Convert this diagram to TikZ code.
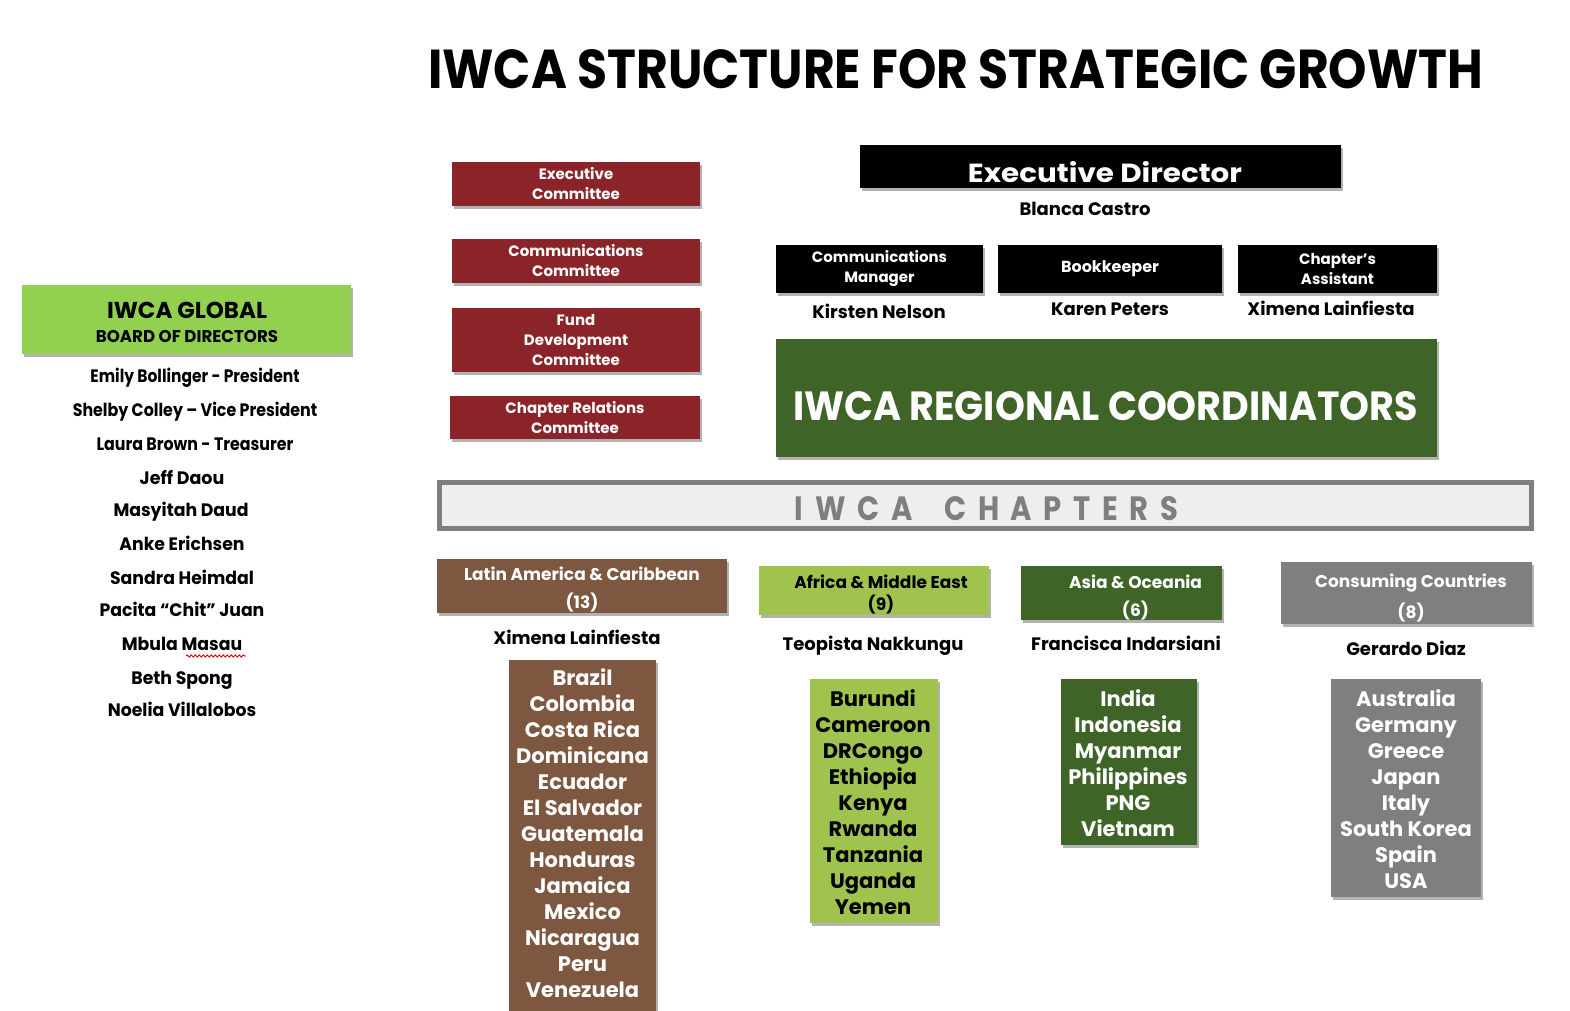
\documentclass[tikz,border=0pt]{standalone}
\usepackage{graphicx}
\usepackage{fontspec}
\setmainfont{Poppins}
\usetikzlibrary{shadows,decorations.pathmorphing}
\definecolor{cred}{HTML}{8B2428}
\definecolor{dgreen}{HTML}{3E6428}
\definecolor{lgreen}{HTML}{92D050}
\definecolor{agreen}{HTML}{A0C34E}
\definecolor{cbrown}{HTML}{7D573F}
\definecolor{cgray}{HTML}{7F7F82}
\definecolor{barfill}{HTML}{EEEEEE}
\definecolor{barline}{HTML}{7F7F7F}
\newcommand{\cnd}[2]{\scalebox{#1}[1]{#2}}
\tikzset{
  shbox/.style={anchor=north west, inner sep=0pt, outer sep=0pt,
    drop shadow={shadow xshift=2pt, shadow yshift=-2.5pt, opacity=0.3, fill=black}},
  lbl/.style={inner sep=0pt, anchor=base, font=\bfseries\fontsize{18}{22}\selectfont},
  wlbl/.style={inner sep=0pt, align=center, text=white, font=\bfseries\fontsize{15}{20}\selectfont},
  hdr/.style={inner sep=0pt, align=center, font=\bfseries\fontsize{17}{28}\selectfont},
  clist/.style={inner sep=0pt, align=center, font=\bfseries\fontsize{21}{26}\selectfont},
}
\begin{document}
\begin{tikzpicture}[x=1pt,y=-1pt]
\useasboundingbox (0,0) rectangle (1570,1010);
\fill[white] (0,0) rectangle (1570,1010);

% title
\node[inner sep=0pt, anchor=south west] (title) at (428,89)
  {\resizebox{1055pt}{39pt}{\bfseries IWCA STRUCTURE FOR STRATEGIC GROWTH}};

% committees
\node[shbox, fill=cred, minimum width=248pt, minimum height=44pt, wlbl] (execc) at (452,162) {Executive\\Committee};
\node[shbox, fill=cred, minimum width=248pt, minimum height=44pt, wlbl] (commc) at (452,239) {Communications\\Committee};
\node[shbox, fill=cred, minimum width=248pt, minimum height=64pt, wlbl] (fundc) at (452,308) {Fund\\Development\\Committee};
\node[shbox, fill=cred, minimum width=250pt, minimum height=43pt, wlbl] (chapc) at (450,396) {Chapter Relations\\Committee};

% executive director
\node[shbox, fill=black, minimum width=481pt, minimum height=43pt] (ed) at (860,145) {};
\node[inner sep=0pt, anchor=south, text=white] (edt) at (1105,183)
  {\resizebox{274pt}{21pt}{\bfseries Executive Director}};
\node[lbl] (blanca) at (1085,215) {Blanca Castro};

% staff
\node[shbox, fill=black, minimum width=207pt, minimum height=48pt, wlbl] (cm) at (776,245) {Communications\\Manager};
\node[shbox, fill=black, minimum width=224pt, minimum height=48pt, wlbl, font=\bfseries\fontsize{16}{20}\selectfont] (bk) at (998,245) {Bookkeeper};
\node[shbox, fill=black, minimum width=199pt, minimum height=48pt, wlbl] (ca) at (1238,245) {Chapter’s\\Assistant};
\node[lbl] (kirsten) at (879,318) {Kirsten Nelson};
\node[lbl] (karen) at (1110,315) {Karen Peters};
\node[lbl] (ximena1) at (1331,315) {Ximena Lainfiesta};

% regional coordinators
\node[shbox, fill=dgreen, minimum width=661pt, minimum height=118pt] (rc) at (776,339) {};
\node[inner sep=0pt, anchor=south, text=white] (rct) at (1105.5,421)
  {\resizebox{625pt}{29pt}{\bfseries IWCA REGIONAL COORDINATORS}};

% board
\node[shbox, fill=lgreen, minimum width=329pt, minimum height=69pt] (board) at (22,285) {};
\node[inner sep=0pt, anchor=base, font=\bfseries\fontsize{23}{26}\selectfont] (bt1) at (187,318) {IWCA GLOBAL};
\node[inner sep=0pt, anchor=base, font=\bfseries\fontsize{17}{20}\selectfont] (bt2) at (187,342) {\cnd{0.98}{BOARD OF DIRECTORS}};

\node[lbl] (n1) at (195,382) {\cnd{0.86}{Emily Bollinger - President}};
\node[lbl] (n2) at (195,416) {\cnd{0.88}{Shelby Colley – Vice President}};
\node[lbl] (n3) at (195,450) {\cnd{0.88}{Laura Brown - Treasurer}};
\node[lbl] (n4) at (182,484) {\cnd{0.97}{Jeff Daou}};
\node[lbl] (n5) at (181,516) {\cnd{0.96}{Masyitah Daud}};
\node[lbl] (n6) at (182,550) {\cnd{0.96}{Anke Erichsen}};
\node[lbl] (n7) at (182,584) {\cnd{0.96}{Sandra Heimdal}};
\node[lbl] (n8) at (182,616) {\cnd{0.96}{Pacita “Chit” Juan}};
\node[lbl] (n9) at (182,650) {\cnd{0.96}{Mbula Masau}};
\node[lbl] (n10) at (182,684) {\cnd{0.96}{Beth Spong}};
\node[lbl] (n11) at (182,716) {\cnd{0.96}{Noelia Villalobos}};
\draw[red!85!black, line width=0.9pt, decorate, decoration={snake, amplitude=1.1pt, segment length=4pt}] (186,656) -- (246,656);

% chapters bar
\node[fill=barfill, draw=barline, line width=5pt, minimum width=1092pt, minimum height=46pt, inner sep=0pt,
  drop shadow={shadow xshift=2pt, shadow yshift=-2.5pt, opacity=0.3, fill=black}] (bar) at (985.5,505.5) {};
\node[inner sep=0pt, anchor=south, text=barline] (bart) at (986.5,521)
  {\resizebox{383pt}{24pt}{\bfseries\addfontfeature{LetterSpace=40}IWCA\hspace{1.1em}CHAPTERS}};

% chapter headers
\node[shbox, fill=cbrown, minimum width=290pt, minimum height=54pt] (lat) at (437,559) {};
\node[hdr, text=white] (latt) at (582,589) {Latin America \& Caribbean\\(13)};
\node[shbox, fill=agreen, minimum width=230pt, minimum height=49pt] (afr) at (759,566) {};
\node[hdr, text=black, font=\bfseries\fontsize{17}{22}\selectfont] (afrt) at (881,594) {Africa \& Middle East\\(9)};
\node[shbox, fill=dgreen, minimum width=201pt, minimum height=54pt] (asia) at (1021,566) {};
\node[hdr, text=white] (asiat) at (1135.5,597) {Asia \& Oceania\\(6)};
\node[shbox, fill=cgray, minimum width=251pt, minimum height=62pt] (cons) at (1281,562) {};
\node[hdr, text=white, font=\bfseries\fontsize{17}{31}\selectfont] (const) at (1411,597.5) {Consuming Countries\\(8)};

\node[lbl] (ximena2) at (577,644) {Ximena Lainfiesta};
\node[lbl] (teo) at (873,650) {Teopista Nakkungu};
\node[lbl] (fran) at (1126,650) {Francisca Indarsiani};
\node[lbl] (ger) at (1406,655) {Gerardo Diaz};

% country lists
\node[shbox, fill=cbrown, minimum width=147pt, minimum height=352pt] (latl) at (509,660) {};
\node[clist, text=white] (latlt) at (582.5,833.5) {Brazil\\Colombia\\Costa Rica\\Dominicana\\Ecuador\\El Salvador\\Guatemala\\Honduras\\Jamaica\\Mexico\\Nicaragua\\Peru\\Venezuela};
\node[shbox, fill=agreen, minimum width=128pt, minimum height=244pt] (afrl) at (810,679) {};
\node[clist, text=black] (afrlt) at (873,802) {Burundi\\Cameroon\\DRCongo\\Ethiopia\\Kenya\\Rwanda\\Tanzania\\Uganda\\Yemen};
\node[shbox, fill=dgreen, minimum width=136pt, minimum height=166pt] (asial) at (1061,679) {};
\node[clist, text=white] (asialt) at (1128,763) {India\\Indonesia\\Myanmar\\Philippines\\PNG\\Vietnam};
\node[shbox, fill=cgray, minimum width=150pt, minimum height=218pt] (consl) at (1331,679) {};
\node[clist, text=white] (conslt) at (1406,789) {Australia\\Germany\\Greece\\Japan\\Italy\\South Korea\\Spain\\USA};
\end{tikzpicture}
\end{document}
